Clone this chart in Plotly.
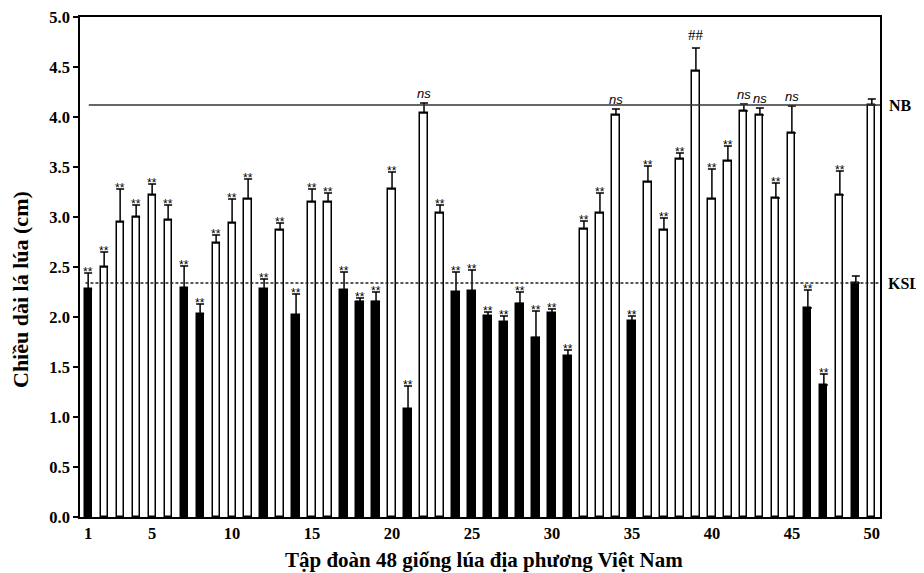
import plotly.graph_objects as go

# ---- data ----
genotypes = list(range(1, 51))
leaf_length = [2.28, 2.50, 2.95, 3.00, 3.22, 2.97, 2.29, 2.03, 2.74, 2.94,
               3.18, 2.28, 2.87, 2.02, 3.15, 3.15, 2.27, 2.155, 2.155, 3.28,
               1.08, 4.04, 3.04, 2.25, 2.26, 2.01, 1.95, 2.135, 1.795, 2.04,
               1.61, 2.88, 3.04, 4.02, 1.96, 3.35, 2.87, 3.58, 4.46, 3.18,
               3.56, 4.06, 4.02, 3.19, 3.84, 2.09, 1.32, 3.22, 2.34, 4.12]
error_up = [0.16, 0.15, 0.33, 0.12, 0.11, 0.15, 0.22, 0.10, 0.08, 0.24,
            0.20, 0.10, 0.07, 0.21, 0.13, 0.09, 0.18, 0.035, 0.095, 0.17,
            0.23, 0.10, 0.08, 0.20, 0.21, 0.04, 0.06, 0.115, 0.265, 0.04,
            0.06, 0.08, 0.20, 0.06, 0.05, 0.16, 0.12, 0.06, 0.23, 0.30,
            0.15, 0.07, 0.07, 0.15, 0.27, 0.18, 0.11, 0.24, 0.07, 0.06]
dark_group = [1, 0, 0, 0, 0, 0, 1, 1, 0, 0,
              0, 1, 0, 1, 0, 0, 1, 1, 1, 0,
              1, 0, 0, 1, 1, 1, 1, 1, 1, 1,
              1, 0, 0, 0, 1, 0, 0, 0, 0, 0,
              0, 0, 0, 0, 0, 1, 1, 0, 1, 0]
signif = ["**"] * 21 + ["ns"] + ["**"] * 11 + ["ns"] + ["**"] * 4 + ["##"] + \
         ["**"] * 2 + ["ns", "ns", "**", "ns", "**", "**", "**", "", ""]
NB_value = 4.12
KSL_value = 2.34
x_ticks = [1, 5, 10, 15, 20, 25, 30, 35, 40, 45, 50]
y_title = "Chiều dài lá lúa (cm)"
x_title = "Tập đoàn 48 giống lúa địa phương Việt Nam"

serif = "Liberation Serif, Times New Roman, serif"
sans = "Liberation Sans, Arial, sans-serif"

colors = ["black" if d else "white" for d in dark_group]

fig = go.Figure()
fig.add_trace(go.Bar(
    x=genotypes, y=leaf_length, width=0.45,
    marker=dict(color=colors, line=dict(color="black", width=1.5)),
    error_y=dict(type="data", symmetric=False, array=error_up,
                 arrayminus=[0] * len(error_up), color="black",
                 thickness=1.5, width=4),
    showlegend=False,
))

# reference lines
fig.add_shape(type="line", xref="x", yref="y", x0=1.04, x1=50.51,
              y0=NB_value, y1=NB_value, line=dict(color="#333333", width=1.5))
fig.add_shape(type="line", xref="x", yref="y", x0=0.83, x1=50.51,
              y0=KSL_value, y1=KSL_value,
              line=dict(color="#222222", width=1.5, dash="3px,2px"))

fig.add_annotation(x=1, xref="paper", xanchor="left", xshift=7, y=NB_value,
                   yref="y", text="<b>NB</b>", showarrow=False,
                   font=dict(family=serif, size=16, color="black"))
fig.add_annotation(x=1, xref="paper", xanchor="left", xshift=6, y=KSL_value,
                   yref="y", text="<b>KSL</b>", showarrow=False,
                   font=dict(family=serif, size=16, color="black"))

# significance marks
for xi, yi, ei, s in zip(genotypes, leaf_length, error_up, signif):
    if not s:
        continue
    if s == "**":
        font = dict(family=sans, size=12, color="black")
        shift = -8
    elif s == "ns":
        font = dict(family=sans, size=13, color="black")
        s = "<i>ns</i>"
        shift = 0
    else:
        font = dict(family=serif, size=15, color="black")
        shift = 3
    fig.add_annotation(x=xi, y=yi + ei, text=s, showarrow=False,
                       yanchor="bottom", xanchor="center", yshift=shift,
                       font=font)

# y title as annotation (centred as in reference)
fig.add_annotation(x=-0.075, xref="paper", y=0.454, yref="paper",
                   text="<b>" + y_title + "</b>", textangle=-90,
                   showarrow=False, xanchor="center", yanchor="middle",
                   font=dict(family=serif, size=22, color="black"))

# x title as annotation
fig.add_annotation(x=0.505, xref="paper", y=-0.086, yref="paper",
                   text="<b>" + x_title + "</b>",
                   showarrow=False, xanchor="center", yanchor="middle",
                   font=dict(family=serif, size=21, color="black"))

# the page puts the figure 8px from the top-left corner
fig.update_layout(
    width=916, height=565,
    margin=dict(l=72, r=44, t=9, b=56),
    plot_bgcolor="white", paper_bgcolor="white",
    bargap=0,
    xaxis=dict(range=[0.49, 50.51], tickvals=x_ticks,
               ticktext=["<b>%d</b>" % t for t in x_ticks],
               ticks="", showline=True, mirror=True, linecolor="black",
               linewidth=1.5, showgrid=False, zeroline=False,
               automargin=False, ticklabeloverflow="allow",
               tickfont=dict(family=serif, size=16.5, color="black")),
    yaxis=dict(range=[0, 5], tickvals=[i * 0.5 for i in range(11)],
               ticktext=["<b>%.1f</b>" % (i * 0.5) for i in range(11)],
               ticks="outside", ticklen=5, tickwidth=1.5, tickcolor="black",
               showline=True, mirror=True, linecolor="black", linewidth=1.5,
               showgrid=False, zeroline=False, automargin=False,
               ticklabeloverflow="allow",
               tickfont=dict(family=serif, size=16.5, color="black")),
)

fig.write_html("out.html")
